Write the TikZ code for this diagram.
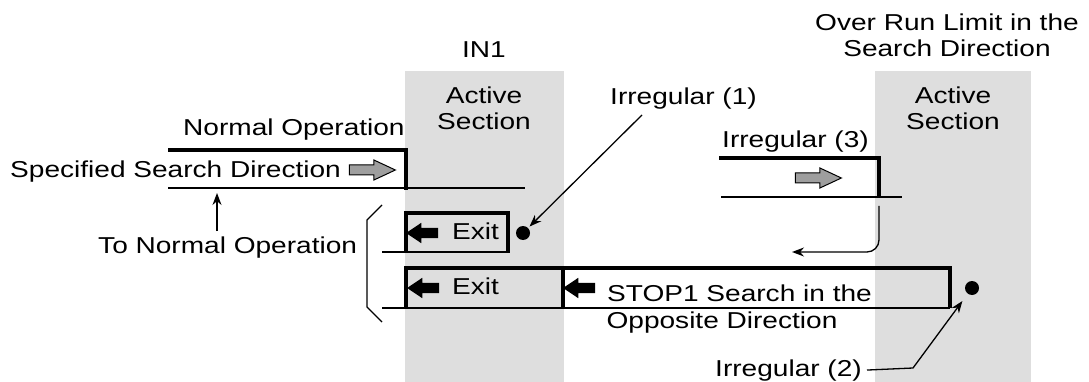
\documentclass[tikz,border=0pt]{standalone}
\usepackage{fontspec}
\setmainfont{Liberation Sans}[FakeStretch=1.22]
\usetikzlibrary{shapes.arrows,arrows.meta,positioning}

\begin{document}
\begin{tikzpicture}[x=1pt, y=-1pt,
    every node/.style={font=\fontsize{23}{26}\selectfont, inner sep=0pt},
    lbl/.style={anchor=base west},
    mid/.style={anchor=base, align=center},
    band/.style={fill=black!13},
    rail/.style={line width=1.3pt},
    frame/.style={line width=4pt},
    dot/.style={circle, fill=black, minimum size=14pt},
    grayarrow/.style={single arrow, draw=black, line width=1pt, fill=black!38,
        inner sep=4.5pt, minimum height=46pt, single arrow head extend=5pt,
        single arrow tip angle=50},
    blackarrow/.style={single arrow, fill=black, shape border rotate=180,
        inner sep=5pt, minimum height=32pt, single arrow head extend=5pt,
        single arrow tip angle=68},
    leader/.style={-{Stealth[length=12pt, width=9pt]}, line width=1.3pt}
]
\useasboundingbox (0,0) rectangle (1089,382);

% active sections
\fill[band] (405,71) rectangle (564,382);
\fill[band] (875,71) rectangle (1031,382);

% headings
\node[mid] (in1) at (484,58) {IN1};
\node[mid] (act1) at (484,130) {Active\\Section};
\node[mid] (overrun) at (947,57) {Over Run Limit in the\\Search Direction};
\node[mid] (act2) at (953,130) {Active\\Section};

% normal operation
\node[lbl] (normal) at (183,136) {Normal Operation};
\node[lbl] (specdir) at (10,178) {Specified Search Direction};
\node[grayarrow] (garr1) at (367,170) {};
\draw[rail] (168,188) -- (525,188);
\draw[frame] (168,150) -| (406,190);

% back to normal operation
\coordinate (up) at (217,193);
\node[lbl] (tonormal) at (98,253) {To Normal Operation};
\draw[leader] ([yshift=5pt]tonormal.north -| up) -- (up);
\draw[rail] (382,205) -- (367,220) -- (367,307) -- (382,322);

% exit 1
\draw[rail] (382,252) -- (508,252);
\draw[frame] (406,253) |- (508,213) -- (508,253);
\node[blackarrow] (barr1) at (426,233) {};
\node[lbl] (exit1) at (452,240) {Exit};
\node[dot] (dot1) at (523,233) {};
\node[lbl] (irr1) at (610,105) {Irregular (1)};
\draw[leader, shorten >=2pt] ([xshift=32pt, yshift=-5pt]irr1.south west) -- (dot1);

% exit 2 and stop1
\draw[rail] (382,308) -- (950,308);
\draw[frame] (406,308) |- (563,268) -- (563,308);
\draw[frame] (563,268) -| (950,308);
\node[blackarrow] (barr2) at (427,288) {};
\node[lbl] (exit2) at (452,294) {Exit};
\node[blackarrow] (barr3) at (583,288) {};
\node[lbl] (stop1) at (607,301) {STOP1 Search in the};
\node[mid] (opp) at (722,328) {Opposite Direction};
\node[dot] (dot2) at (972,288) {};
\node[anchor=base east] (irr2) at (862,376) {Irregular (2)};
\coordinate (bend2) at (913,368);
\draw[leader, shorten >=9pt] ([xshift=5pt]irr2.east) -- (bend2) -- (dot2);

% irregular 3
\node[lbl] (irr3) at (722,148) {Irregular (3)};
\draw[rail] (721,197) -- (902,197);
\draw[frame] (719,158) -| (879,197);
\node[grayarrow] (garr2) at (813,178) {};
\coordinate (ret3a) at (879,206);
\coordinate (ret3b) at (792,252);
\draw[leader, rounded corners=12pt] (ret3a) |- (ret3b);
\end{tikzpicture}
\end{document}
